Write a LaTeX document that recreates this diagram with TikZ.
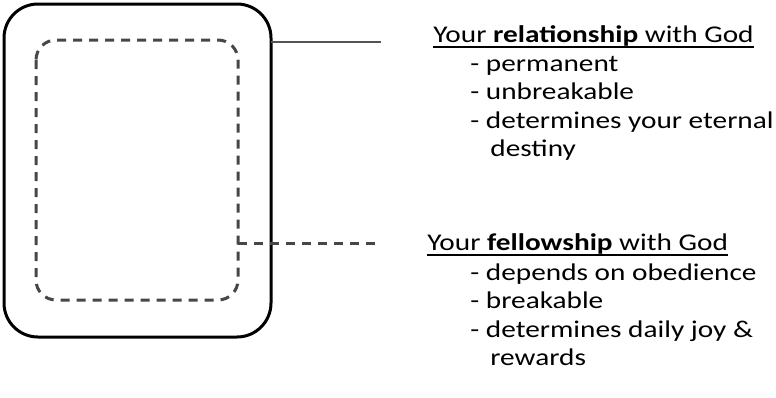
\documentclass[tikz,border=0pt]{standalone}
\usepackage{fontspec}
\setmainfont{Carlito}
\newcommand{\wide}[1]{\scalebox{1.22}[1]{#1}}

\begin{document}
\begin{tikzpicture}[
  x=0.5pt, y=-0.5pt,
  every node/.style={font=\fontsize{12}{14}\selectfont, inner sep=0pt, anchor=base west},
  box/.style={draw=black, line width=1.5pt, rounded corners=17pt},
  inbox/.style={draw=black!72, line width=1.5pt, dash pattern=on 4.5pt off 3.5pt, rounded corners=10pt},
  link/.style={draw=black!67, line width=1pt},
  underl/.style={draw=black, line width=0.9pt}
]
  \useasboundingbox (0,0) rectangle (776,397);

  % Boxes
  \draw[box] (4,4) rectangle (271,337);
  \draw[inbox] (36,40) rectangle (238,300);

  % Connectors
  \coordinate (relend) at (381,42);
  \coordinate (felend) at (382,243);
  \draw[link] (271,42) -- (relend);
  \draw[inbox, rounded corners=0pt] (238,243) -- (felend);

  % Relationship
  \node (relhead) at (433,42) {\wide{Your \textbf{relationship} with God}};
  \node (rel1) at (470,71) {\wide{- permanent}};
  \node (rel2) at (470,99) {\wide{- unbreakable}};
  \node (rel3) at (470,128) {\wide{- determines your eternal}};
  \node (rel4) at (490,156) {\wide{destiny}};

  % Fellowship
  \node (felhead) at (427,250) {\wide{Your \textbf{fellowship} with God}};
  \node (fel1) at (470,280) {\wide{- depends on obedience}};
  \node (fel2) at (470,308) {\wide{- breakable}};
  \node (fel3) at (470,337) {\wide{- determines daily joy \&}};
  \node (fel4) at (490,365) {\wide{rewards}};

  % Underlines
  \draw[underl] ([yshift=-2.3pt]relhead.base west) -- ([yshift=-2.3pt]relhead.base east);
  \draw[underl] ([yshift=-2.3pt]felhead.base west) -- ([yshift=-2.3pt]felhead.base east);
\end{tikzpicture}
\end{document}
